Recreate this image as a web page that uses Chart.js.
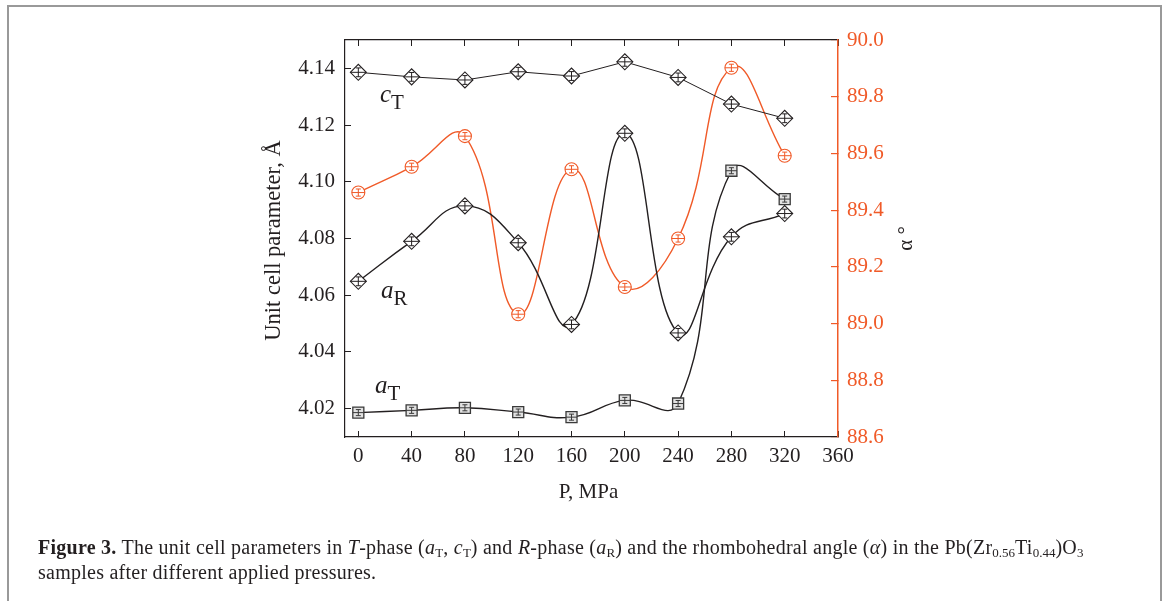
<!DOCTYPE html>
<html>
<head>
<meta charset="utf-8">
<script src="https://cdn.jsdelivr.net/npm/chart.js@4.4.0/dist/chart.umd.min.js"></script>
<style>
  html, body { margin: 0; padding: 0; background: #fff; }
  #wrap { position: relative; width: 1170px; height: 601px; overflow: hidden; }
  #frame { position: absolute; left: 7px; top: 5px; width: 1155px; height: 700px;
           border: 2px solid #999; border-bottom: none; box-sizing: border-box; }
  #chart { position: absolute; left: 0; top: 0; }
  #caption { position: absolute; left: 38px; top: 535px; width: 1120px;
             font-family: "Liberation Serif", serif; font-size: 20px; letter-spacing: 0.25px;
             line-height: 25px; color: #231f20; white-space: nowrap; }
  #caption sub { font-size: 13px; vertical-align: -3px; line-height: 0; letter-spacing: 0; }
</style>
</head>
<body>
<div id="wrap">
  <div id="frame"></div>
  <canvas id="chart" width="1170" height="601"></canvas>
  <div id="caption"><b>Figure 3.</b> The unit cell parameters in <i>T</i>-phase (<i>a</i><sub>T</sub>, <i>c</i><sub>T</sub>) and <i>R</i>-phase (<i>a</i><sub>R</sub>) and the rhombohedral angle (<i>α</i>) in the Pb(Zr<sub>0.56</sub>Ti<sub>0.44</sub>)O<sub>3</sub><br>samples after different applied pressures.</div>
</div>
<script>
// data
const pressure = [0, 40, 80, 120, 160, 200, 240, 280, 320];
const cT = [4.1386, 4.1370, 4.1359, 4.1388, 4.1373, 4.1423, 4.1368, 4.1274, 4.1224];
const aR = [4.0649, 4.0790, 4.0915, 4.0785, 4.0497, 4.1171, 4.0467, 4.0806, 4.0888];
const aT = [4.0186, 4.0194, 4.0203, 4.0188, 4.0170, 4.0229, 4.0218, 4.1039, 4.0939];
const alpha = [89.462, 89.553, 89.661, 89.033, 89.544, 89.129, 89.300, 89.902, 89.592];

const xTicks = [0, 40, 80, 120, 160, 200, 240, 280, 320, 360];
const yTicks = [4.02, 4.04, 4.06, 4.08, 4.10, 4.12, 4.14];
const alphaTicks = [88.6, 88.8, 89.0, 89.2, 89.4, 89.6, 89.8, 90.0];

const black = '#231f20';
const red = '#f05a28';
const font = '"Liberation Serif", "Times New Roman", serif';

const pts = arr => arr.map((v, i) => ({ x: pressure[i], y: v }));

// the little error bar + mid line drawn inside every marker
const innerMarks = {
    id: 'innerMarks',
    afterDatasetsDraw(chart) {
        const ctx = chart.ctx;
        ctx.save();
        chart.data.datasets.forEach((ds, di) => {
            const h = ds.markHalf;
            const e = h * 0.55;
            ctx.strokeStyle = ds.pointBorderColor;
            ctx.lineWidth = 1;
            chart.getDatasetMeta(di).data.forEach(p => {
                ctx.beginPath();
                ctx.moveTo(p.x - h, p.y); ctx.lineTo(p.x + h, p.y);
                ctx.moveTo(p.x, p.y - e); ctx.lineTo(p.x, p.y + e);
                ctx.moveTo(p.x - 2.5, p.y - e); ctx.lineTo(p.x + 2.5, p.y - e);
                ctx.moveTo(p.x - 2.5, p.y + e); ctx.lineTo(p.x + 2.5, p.y + e);
                ctx.stroke();
            });
        });
        ctx.restore();
    }
};

// text labels, axis titles
const labelsPlugin = {
    id: 'labels',
    afterDraw(chart) {
        const ctx = chart.ctx;
        const a = chart.chartArea;
        ctx.save();
        ctx.fillStyle = black;
        ctx.textBaseline = 'alphabetic';
        ctx.textAlign = 'left';
        const sub = (main, s, x, y) => {
            ctx.font = 'italic 25px ' + font;
            ctx.fillText(main, x, y);
            const w = ctx.measureText(main).width;
            ctx.font = '21px ' + font;
            ctx.fillText(s, x + w, y + 7);
        };
        sub('c', 'T', 380, 102);
        sub('a', 'R', 381, 298);
        sub('a', 'T', 375, 393);

        ctx.font = '21px ' + font;
        ctx.textAlign = 'center';
        ctx.textBaseline = 'middle';
        ctx.fillText('P, MPa', (a.left + a.right) / 2 - 3, 492);

        ctx.save();
        ctx.translate(274, (a.top + a.bottom) / 2 + 2);
        ctx.rotate(-Math.PI / 2);
        ctx.font = '22.5px ' + font;
        ctx.fillText('Unit cell parameter, Å', 0, 0);
        ctx.restore();

        ctx.save();
        ctx.translate(906, (a.top + a.bottom) / 2);
        ctx.rotate(-Math.PI / 2);
        ctx.font = '21px ' + font;
        ctx.fillText('α °', 0, 0);
        ctx.restore();
        ctx.restore();
    }
};

const fixTicks = list => scale => { scale.ticks = list.map(v => ({ value: v })); };

new Chart(document.getElementById('chart'), {
    type: 'line',
    data: {
        datasets: [
            { label: 'cT', data: pts(cT), borderColor: black, borderWidth: 1, tension: 0,
              pointStyle: 'rectRot', pointRadius: 8, pointBorderColor: black, pointBorderWidth: 1.1,
              pointBackgroundColor: '#fff', markHalf: 8, yAxisID: 'y' },
            { label: 'aR', data: pts(aR), borderColor: black, borderWidth: 1.4, tension: 0.45,
              pointStyle: 'rectRot', pointRadius: 8, pointBorderColor: black, pointBorderWidth: 1.1,
              pointBackgroundColor: '#fff', markHalf: 8, yAxisID: 'y' },
            { label: 'aT', data: pts(aT), borderColor: black, borderWidth: 1.4, tension: 0.45,
              pointStyle: 'rect', pointRadius: 7.8, pointBorderColor: '#3a3a3a', pointBorderWidth: 1.3,
              pointBackgroundColor: '#e2e2e2', markHalf: 5.5, yAxisID: 'y' },
            { label: 'alpha', data: pts(alpha), borderColor: red, borderWidth: 1.4, tension: 0.45,
              pointStyle: 'circle', pointRadius: 6.5, pointBorderColor: red, pointBorderWidth: 1.1,
              pointBackgroundColor: '#fff', markHalf: 6.5, yAxisID: 'y2' }
        ]
    },
    options: {
        responsive: false,
        animation: false,
        devicePixelRatio: 1,
        layout: { padding: 0 },
        plugins: { legend: { display: false }, tooltip: { enabled: false } },
        scales: {
            x: {
                type: 'linear', position: 'bottom', min: -10, max: 360,
                afterBuildTicks: fixTicks(xTicks),
                afterFit: s => { s.height = 164; },
                border: { color: black, width: 1.2 },
                grid: { drawOnChartArea: false, tickLength: -6, color: black },
                ticks: { color: black, font: { family: font, size: 21 }, padding: 13, maxRotation: 0,
                         autoSkip: false, callback: v => v }
            },
            x2: {
                type: 'linear', position: 'top', min: -10, max: 360,
                afterBuildTicks: fixTicks(xTicks),
                afterFit: s => { s.height = 40; },
                border: { color: black, width: 1.2 },
                grid: { drawOnChartArea: false, tickLength: -6, color: black },
                ticks: { display: false }
            },
            y: {
                position: 'left', min: 4.01, max: 4.15,
                afterBuildTicks: fixTicks(yTicks),
                afterFit: s => { s.width = 345; },
                border: { color: black, width: 1.2 },
                grid: { drawOnChartArea: false, tickLength: -6, color: black },
                ticks: { color: black, font: { family: font, size: 21 }, padding: 16,
                         autoSkip: false, callback: v => v.toFixed(2) }
            },
            y2: {
                position: 'right', min: 88.6, max: 90.0,
                afterBuildTicks: fixTicks(alphaTicks),
                afterFit: s => { s.width = 332; },
                border: { color: red, width: 1.5 },
                grid: { drawOnChartArea: false, tickLength: -7, color: red, lineWidth: 1.2 },
                ticks: { color: red, font: { family: font, size: 21 }, padding: 16,
                         autoSkip: false, callback: v => v.toFixed(1) }
            }
        }
    },
    plugins: [innerMarks, labelsPlugin]
});
</script>
</body>
</html>
